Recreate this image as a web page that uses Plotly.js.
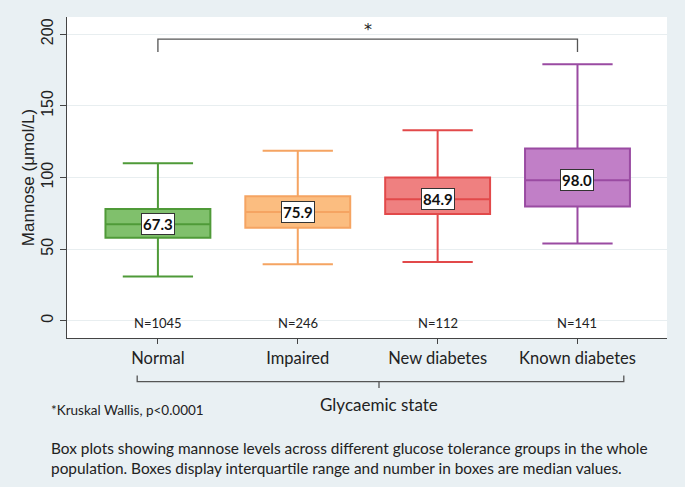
<!DOCTYPE html>
<html>
<head>
<meta charset="utf-8">
<script src="https://cdn.plot.ly/plotly-3.0.1.min.js"></script>
<style>html,body{margin:0;padding:0;background:#e9f0f3;}#chart{width:685px;height:487px;}</style>
</head>
<body>
<div id="chart"></div>
<script>
// Data
const groups = ["Normal", "Impaired", "New diabetes", "Known diabetes"];
const lowerWhisker = [31, 39.5, 41, 54];
const q1Values = [58, 65, 74.6, 79.7];
const medians = [67.3, 75.9, 84.9, 98.0];
const q3Values = [78, 87, 100, 120.3];
const upperWhisker = [110, 118.7, 133, 179];
const sampleSizes = [1045, 246, 112, 141];
const yTicks = [0, 50, 100, 150, 200];

const fillColors = ["#80c06c", "#fbbd80", "#ef8080", "#c17fc7"];
const lineColors = ["#4f9a38", "#f5a462", "#e2494a", "#9a4ba2"];

const traces = groups.map((g, i) => ({
  type: "box",
  x: [g],
  q1: [q1Values[i]],
  median: [medians[i]],
  q3: [q3Values[i]],
  lowerfence: [lowerWhisker[i]],
  upperfence: [upperWhisker[i]],
  fillcolor: fillColors[i],
  line: { color: lineColors[i], width: 2 },
  width: 0.75,
  whiskerwidth: 0.67,
  showlegend: false,
  hoverinfo: "skip"
}));

const FONT = "Lato, 'Open Sans', sans-serif";
const annotations = [];
groups.forEach((g, i) => {
  annotations.push({
    x: g, y: medians[i], xref: "x", yref: "y",
    text: "<b>" + medians[i].toFixed(1) + "</b>",
    showarrow: false, bgcolor: "#ffffff", bordercolor: "#333333", borderwidth: 1, borderpad: 1,
    font: { family: FONT, size: 15, color: "#111" }
  });
  annotations.push({
    x: g, y: -1.5, xref: "x", yref: "y",
    text: "N=" + sampleSizes[i],
    showarrow: false,
    font: { family: FONT, size: 13, color: "#222" }
  });
});
annotations.push({
  x: 1.5, y: 203, xref: "x", yref: "y", text: "*", showarrow: false,
  font: { family: "'DejaVu Sans', sans-serif", size: 16, color: "#222" }
});
annotations.push({
  x: 0.52, y: -0.206, xref: "paper", yref: "paper", yanchor: "middle", xanchor: "center", text: "Glycaemic state", showarrow: false,
  font: { family: FONT, size: 17, color: "#222" }
});
annotations.push({
  x: -0.03, y: -0.224, xref: "paper", yref: "paper", xanchor: "left", yanchor: "middle", text: "*Kruskal Wallis, p<0.0001", showarrow: false,
  font: { family: FONT, size: 13.5, color: "#222" }
});
annotations.push({
  x: -0.03, y: -0.374, xref: "paper", yref: "paper", xanchor: "left", yanchor: "middle", align: "left",
  text: "Box plots showing mannose levels across different glucose tolerance groups in the whole<br>population. Boxes display interquartile range and number in boxes are median values.",
  showarrow: false,
  font: { family: FONT, size: 15.4, color: "#222" }
});

const shapes = [
  // significance bracket between Normal and Known diabetes
  { type: "path", xref: "x", yref: "y", path: "M 0,187.5 L 0,196.5 L 3,196.5 L 3,187.5", line: { color: "#555", width: 1.3 } },
  // x-axis group bracket
  { type: "path", xref: "paper", yref: "paper", path: "M 0.117,-0.117 L 0.117,-0.136 L 0.928,-0.136 L 0.928,-0.117", line: { color: "#555", width: 1.3 } },
  { type: "line", xref: "paper", yref: "paper", x0: 0.52, x1: 0.52, y0: -0.136, y1: -0.156, line: { color: "#555", width: 1.3 } }
];

const layout = {
  width: 685, height: 487,
  paper_bgcolor: "#e9f0f3",
  plot_bgcolor: "#ffffff",
  margin: { l: 67, r: 18, t: 17, b: 149 },
  boxmode: "overlay",
  xaxis: {
    type: "category", categoryorder: "array", categoryarray: groups,
    range: [-0.65, 3.64],
    showline: true, linecolor: "#444", linewidth: 1.3,
    ticks: "outside", ticklen: 5, tickcolor: "#444",
    showgrid: false, zeroline: false,
    tickfont: { family: FONT, size: 16.5, color: "#222" }
  },
  yaxis: {
    range: [-12, 212],
    tickvals: yTicks,
    tickangle: -90,
    showline: true, linecolor: "#444", linewidth: 1.3,
    ticks: "outside", ticklen: 6, tickcolor: "#444",
    gridcolor: "#e8eef0", zeroline: false,
    tickfont: { family: "'Liberation Sans', Arial, sans-serif", size: 16, color: "#222" },
    title: { text: "Mannose (μmol/L)", standoff: 0, font: { family: "'Liberation Sans', Arial, sans-serif", size: 17, color: "#222" } }
  },
  annotations: annotations,
  shapes: shapes
};

Plotly.newPlot("chart", traces, layout, { staticPlot: true, displayModeBar: false });
</script>
</body>
</html>
